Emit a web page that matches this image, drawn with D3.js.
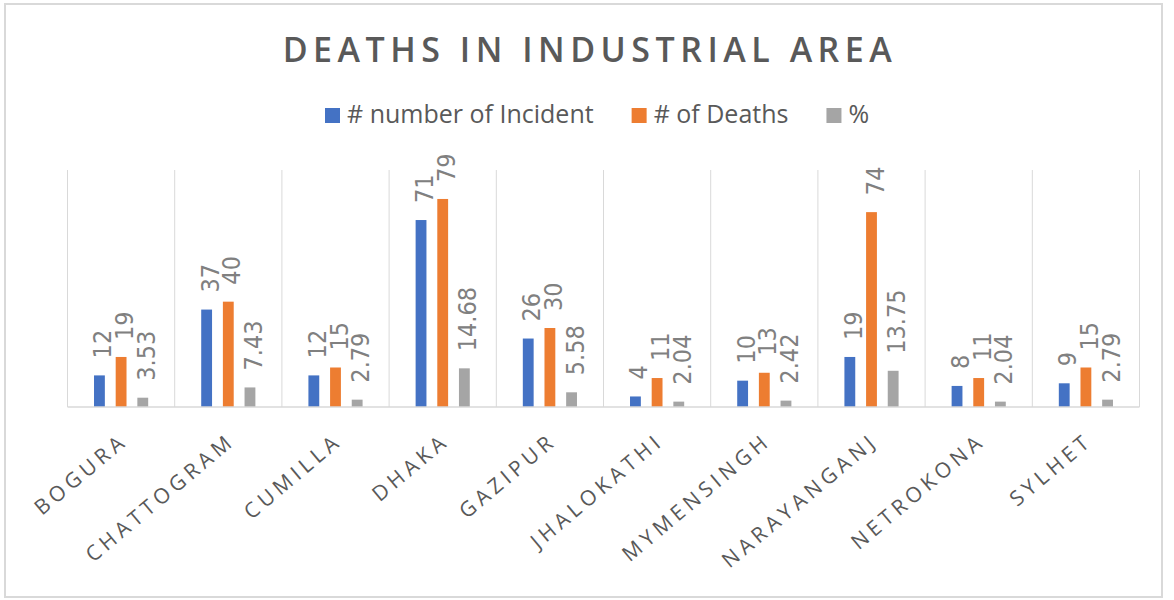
<!DOCTYPE html>
<html>
<head>
<meta charset="utf-8">
<script src="https://cdn.jsdelivr.net/npm/d3@7"></script>
<style>
  body { margin: 0; background: #fff; }
  svg { display: block; }
</style>
</head>
<body>
<svg width="1174" height="600"></svg>
<script>
var districts = ['BOGURA', 'CHATTOGRAM', 'CUMILLA', 'DHAKA', 'GAZIPUR', 'JHALOKATHI', 'MYMENSINGH', 'NARAYANGANJ', 'NETROKONA', 'SYLHET'];
var incidents = [12, 37, 12, 71, 26, 4, 10, 19, 8, 9];
var deaths = [19, 40, 15, 79, 30, 11, 13, 74, 11, 15];
var percent = [3.53, 7.43, 2.79, 14.68, 5.58, 2.04, 2.42, 13.75, 2.04, 2.79];
var seriesNames = ['# number of Incident', '# of Deaths', '%'];
var colors = ['#4472c4', '#ed7d31', '#a5a5a5'];

var seriesValues = [incidents, deaths, percent];

var svg = d3.select('svg');

// chart frame
svg.append('rect')
    .attr('x', 5).attr('y', 4)
    .attr('width', 1157).attr('height', 593)
    .attr('fill', 'none')
    .attr('stroke', '#d9d9d9')
    .attr('stroke-width', 2);

svg.append('text')
    .attr('x', 590)
    .attr('y', 62)
    .attr('text-anchor', 'middle')
    .attr('font-family', 'Open Sans')
    .attr('font-weight', 600)
    .attr('font-size', 34)
    .attr('letter-spacing', 5.5)
    .attr('fill', '#595959')
    .text('DEATHS IN INDUSTRIAL AREA');

// legend
var legend = svg.append('g');
var lx = 325;
seriesNames.forEach(function (name, i) {
    legend.append('rect')
        .attr('x', lx).attr('y', 108)
        .attr('width', 15).attr('height', 15)
        .attr('fill', colors[i]);
    var t = legend.append('text')
        .attr('x', lx + 22)
        .attr('y', 123)
        .attr('font-family', 'Open Sans')
        .attr('font-size', 25)
        .attr('fill', '#595959')
        .text(name);
    lx += 22 + t.node().getComputedTextLength() + 38;
});

var x0 = d3.scaleBand()
    .domain(districts)
    .range([67.5, 1139.5]);

var x1 = d3.scaleBand()
    .domain(d3.range(seriesNames.length))
    .range([0, 65])
    .paddingInner(0.5)
    .paddingOuter(0.25);

var y = d3.scaleLinear()
    .domain([0, 90])
    .range([407, 170]);

// vertical separators between categories
var gridX = districts.map(function (d) { return x0(d); }).concat([x0.range()[1]]);
svg.append('g').selectAll('line')
    .data(gridX)
    .join('line')
    .attr('x1', function (d) { return d; })
    .attr('x2', function (d) { return d; })
    .attr('y1', y.range()[1])
    .attr('y2', y(0))
    .attr('stroke', '#d9d9d9')
    .attr('stroke-width', 1);

var groups = svg.append('g').selectAll('g')
    .data(districts)
    .join('g')
    .attr('transform', function (d) {
        return 'translate(' + (x0(d) + x0.bandwidth() / 2 - 32.5) + ',0)';
    });

groups.selectAll('rect')
    .data(function (d, i) {
        return seriesValues.map(function (vals, s) { return { s: s, v: vals[i] }; });
    })
    .join('rect')
    .attr('x', function (d) { return x1(d.s); })
    .attr('width', x1.bandwidth())
    .attr('y', function (d) { return y(d.v); })
    .attr('height', function (d) { return y(0) - y(d.v); })
    .attr('fill', function (d) { return colors[d.s]; });

groups.selectAll('text')
    .data(function (d, i) {
        return seriesValues.map(function (vals, s) { return { s: s, v: vals[i] }; });
    })
    .join('text')
    .attr('transform', function (d) {
        return 'translate(' + (x1(d.s) + x1.bandwidth() / 2 + 3) + ',' + (y(d.v) - 17) + ') rotate(-90)';
    })
    .attr('dy', '0.36em')
    .attr('font-family', 'Liberation Sans Narrow, DejaVu Sans Condensed, sans-serif')
    .attr('font-size', 25)
    .attr('fill', '#808080')
    .text(function (d) { return d.v; });

// baseline
svg.append('line')
    .attr('x1', x0.range()[0])
    .attr('x2', x0.range()[1])
    .attr('y1', y(0))
    .attr('y2', y(0))
    .attr('stroke', '#d9d9d9')
    .attr('stroke-width', 1.5);

// category labels
svg.append('g').selectAll('text')
    .data(districts)
    .join('text')
    .attr('transform', function (d) {
        return 'translate(' + (x0(d) + x0.bandwidth() / 2 + 8) + ',443) rotate(-40)';
    })
    .attr('text-anchor', 'end')
    .attr('font-family', 'Open Sans')
    .attr('font-size', 21)
    .attr('letter-spacing', 4.5)
    .attr('fill', '#595959')
    .text(function (d) { return d; });
</script>
</body>
</html>
